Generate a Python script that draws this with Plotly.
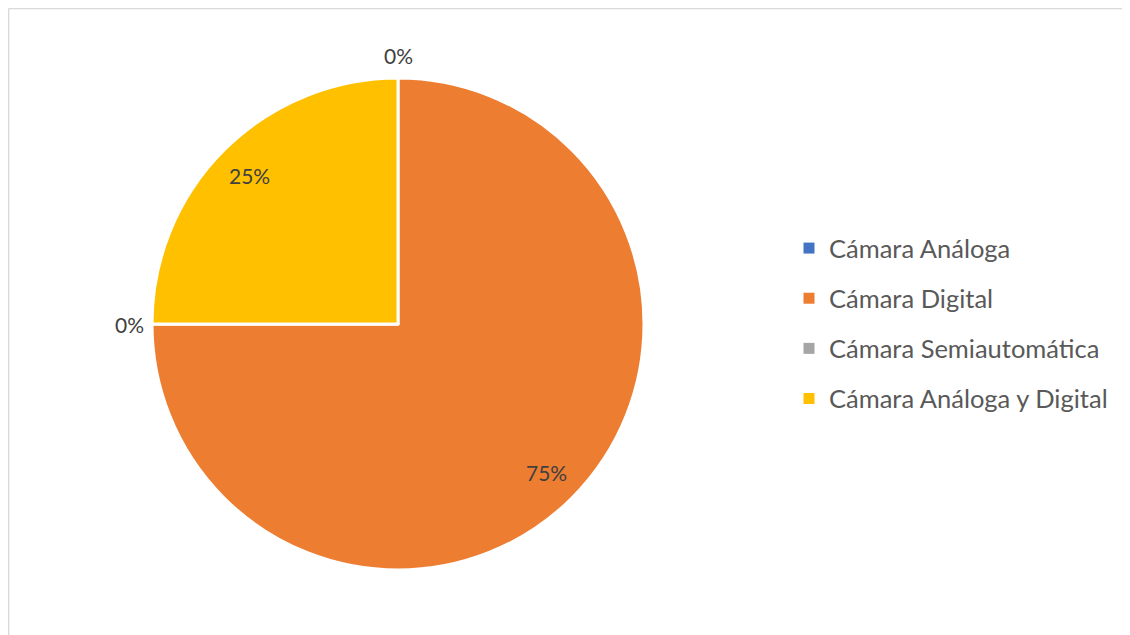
import math
import plotly.graph_objects as go

categories = ["Cámara Análoga", "Cámara Digital", "Cámara Semiautomática", "Cámara Análoga y Digital"]
values = [0, 75, 0, 25]
colors = ["#4472C4", "#ED7D31", "#A5A5A5", "#FFC000"]

OFF = 8  # page body offset of the plot div
W, H = 1130 - OFF, 635 - OFF
cx, cy, r = 398 - OFF, 324 - OFF, 246

fig = go.Figure()
fig.add_trace(go.Pie(
    labels=categories,
    values=values,
    sort=False,
    direction="clockwise",
    rotation=0,
    marker=dict(colors=colors, line=dict(color="white", width=3)),
    textinfo="none",
    showlegend=False,
    hoverinfo="label+percent",
    domain=dict(x=[(cx - r) / W, (cx + r) / W], y=[(H - cy - r) / H, (H - cy + r) / H]),
))

# legend entries (one per category)
for name, col in zip(categories, colors):
    fig.add_trace(go.Scatter(
        x=[None], y=[None], mode="markers", name=name, legendgroup=name,
        marker=dict(symbol="square", size=11, color=col),
        showlegend=True, hoverinfo="skip",
    ))

# percentage labels placed from the data
total = sum(values)
annotations = []
cum = 0.0
for v in values:
    frac = v / total
    mid = (cum + frac / 2) * 2 * math.pi
    if v == 0:
        rr = r + 23
    else:
        rr = 0.855 * r
    px = cx + rr * math.sin(mid)
    py = cy - rr * math.cos(mid)
    annotations.append(dict(
        x=px / W, y=1 - py / H, xref="paper", yref="paper",
        text=f"{round(frac * 100)}%", showarrow=False,
        xanchor="center", yanchor="middle",
        font=dict(family="Lato", size=21, color="#404040"),
    ))
    cum += frac

border = dict(color="#D9D9D9", width=1.5)
fig.update_layout(
    width=W, height=H,
    margin=dict(l=0, r=0, t=0, b=0),
    paper_bgcolor="white",
    plot_bgcolor="white",
    xaxis=dict(visible=False),
    yaxis=dict(visible=False),
    font=dict(family="Lato", color="#595959"),
    legend=dict(
        x=781 / W, y=1 - 217 / H, xanchor="left", yanchor="top",
        font=dict(family="Lato", size=25.5, color="#595959"),
        itemwidth=30, tracegroupgap=14,
        traceorder="grouped",
    ),
    annotations=annotations,
    shapes=[
        dict(type="line", xref="paper", yref="paper", x0=0.6 / W, x1=1, y0=1 - 0.6 / H, y1=1 - 0.6 / H, line=border),
        dict(type="line", xref="paper", yref="paper", x0=0.6 / W, x1=0.6 / W, y0=0, y1=1 - 0.6 / H, line=border),
    ],
)

fig.write_html("out.html")
